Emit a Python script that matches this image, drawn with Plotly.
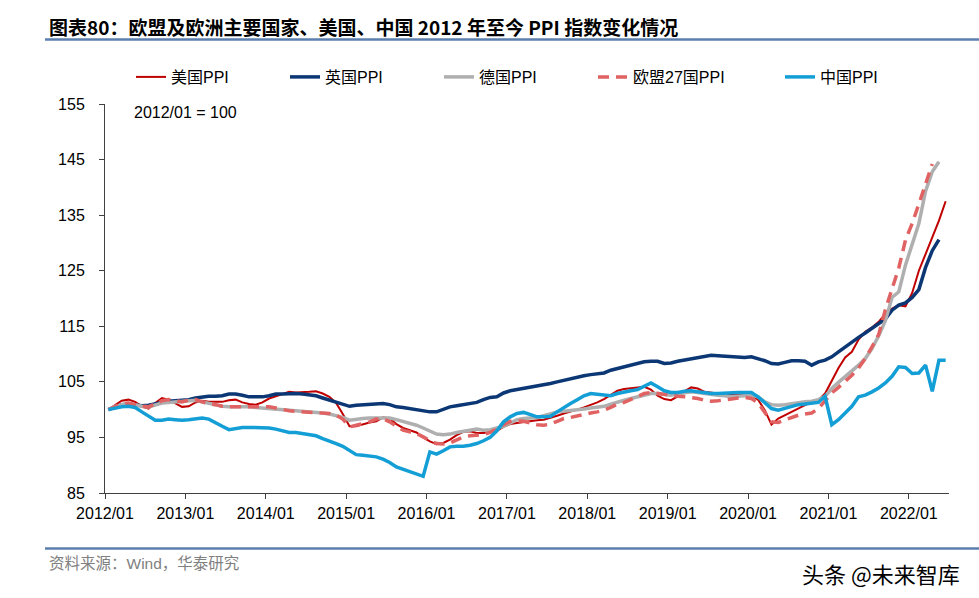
import plotly.graph_objects as go

# month index 0 = 2012/01
us_ppi = [100.0, 100.8, 101.6, 101.8, 101.4, 100.6, 100.2, 101.2, 102.1, 101.8, 101.2, 100.5,
          100.6, 101.3, 101.6, 101.4, 101.4, 101.4, 101.7, 101.8, 101.3, 101.0, 100.9, 101.3,
          102.0, 102.4, 102.8, 103.2, 103.1, 103.1, 103.2, 103.3, 102.9, 102.3, 101.2, 99.2,
          97.0, 97.0, 97.4, 97.7, 97.9, 98.6, 98.4, 97.4, 96.7, 96.3, 95.9, 95.0,
          94.3, 93.8, 94.0, 94.6, 95.4, 96.0, 96.1, 95.8, 95.8, 96.0, 96.2, 96.9,
          97.4, 97.6, 97.8, 98.0, 98.1, 98.2, 98.5, 98.9, 99.3, 99.6, 100.0, 100.4,
          100.8, 101.3, 101.9, 102.6, 103.4, 103.7, 103.8, 103.9, 104.1, 103.6, 102.5, 101.9,
          101.7, 102.4, 103.3, 104.0, 103.8, 103.2, 103.0, 102.9, 102.8, 102.7, 102.7, 102.6,
          102.6, 101.8, 99.9, 97.3, 98.4, 99.0, 99.6, 100.3, 100.8, 101.3, 101.7, 102.9,
          105.3, 107.5, 109.4, 110.4, 112.6, 114.0, 114.8, 115.8, 117.2, 118.2, 118.8, 118.6,
          121.0, 125.0, 128.0, 131.0, 134.0, 137.5]

uk_ppi = [100.0, 100.5, 100.9, 101.0, 100.8, 100.7, 100.8, 101.1, 101.3, 101.5, 101.6, 101.7,
          101.8, 102.1, 102.3, 102.4, 102.4, 102.5, 102.8, 102.8, 102.6, 102.3, 102.3, 102.3,
          102.5, 102.8, 102.8, 102.9, 102.9, 102.8, 102.7, 102.5, 102.1, 101.7, 101.4, 100.9,
          100.6, 100.8, 100.9, 101.0, 101.1, 101.1, 100.9, 100.5, 100.4, 100.2, 100.0, 99.7,
          99.6, 99.6, 100.0, 100.5, 100.7, 100.9, 101.1, 101.3, 101.8, 102.2, 102.3, 103.0,
          103.4, 103.6, 103.8, 104.0, 104.2, 104.4, 104.7, 105.0, 105.3, 105.6, 105.9, 106.1,
          106.3, 106.4, 106.6, 107.1, 107.4, 107.7, 108.0, 108.3, 108.6, 108.7, 108.7, 108.3,
          108.4, 108.7, 108.9, 109.2, 109.4, 109.5, 109.8, 109.7, 109.6, 109.6, 109.5, 109.4,
          109.5, 109.2, 108.8, 108.3, 108.2, 108.5, 108.8, 108.8, 108.7, 108.0, 108.6, 108.9,
          109.5, 110.4, 111.3, 112.2, 113.0, 113.8, 114.6, 115.4, 116.3, 117.9, 118.8, 119.2,
          120.2, 121.6, 125.6, 128.6, 130.6]

de_ppi = [100.0, 100.6, 100.9, 101.1, 100.9, 100.6, 100.5, 100.8, 101.2, 101.3, 101.4, 101.4,
          101.6, 101.7, 101.4, 101.1, 100.8, 100.6, 100.5, 100.5, 100.6, 100.5, 100.4, 100.3,
          100.3, 100.2, 100.0, 99.9, 99.8, 99.7, 99.6, 99.6, 99.4, 99.2, 98.9, 98.6,
          98.1, 98.3, 98.4, 98.5, 98.5, 98.5, 98.5, 98.2, 97.9, 97.5, 97.2, 96.7,
          96.1, 95.6, 95.5, 95.6, 95.9, 96.1, 96.4, 96.5, 96.3, 96.4, 96.7, 97.0,
          97.6, 98.2, 98.4, 98.5, 98.6, 98.9, 99.3, 99.6, 99.7, 99.8, 99.9, 100.1,
          100.3, 100.4, 100.6, 101.0, 101.4, 101.7, 102.0, 102.3, 102.6, 102.9, 102.9, 102.7,
          102.6, 102.8, 103.0, 103.2, 103.1, 102.9, 102.8, 102.6, 102.5, 102.3, 102.4, 102.5,
          102.6, 102.3, 101.4, 100.9, 100.8, 100.9, 101.1, 101.3, 101.4, 101.5, 101.8, 102.4,
          103.8, 104.9, 105.9, 106.8, 108.0, 109.2, 111.0, 113.3, 116.0, 120.2, 121.2, 126.0,
          130.0, 133.5, 139.3, 142.8, 144.6]

eu27_ppi = [100.0, 100.5, 101.0, 101.2, 100.9, 100.6, 100.5, 101.1, 101.6, 101.8, 101.6, 101.4,
            101.7, 101.8, 101.4, 101.0, 100.9, 100.6, 100.5, 100.5, 100.5, 100.5, 100.5, 100.5,
            100.5, 100.3, 100.0, 99.8, 99.7, 99.6, 99.6, 99.5, 99.4, 99.3, 99.0, 98.3,
            96.9, 97.2, 97.5, 97.8, 98.3, 98.4, 97.8, 97.0, 96.3, 96.0, 95.7, 95.1,
            94.4, 93.9, 93.8, 94.0, 94.5, 95.1, 95.3, 95.4, 95.5, 95.9, 96.5, 97.3,
            97.9, 98.0, 97.9, 97.6, 97.3, 97.2, 97.4, 97.9, 98.4, 98.6, 98.9, 99.2,
            99.4, 99.6, 99.9, 100.4, 101.0, 101.3, 101.8, 102.3, 102.9, 103.1, 102.9, 102.8,
            102.6, 102.4, 102.3, 102.2, 102.0, 101.7, 101.5, 101.6, 101.7, 101.9, 102.1, 102.2,
            102.0, 101.2, 99.5, 97.8, 97.7, 98.1, 98.6, 99.0, 99.2, 99.4, 100.2, 101.5,
            103.0, 104.0, 105.0, 106.2, 107.5, 109.2, 111.3, 113.5, 118.0, 122.0, 125.5, 130.5,
            133.5, 137.0, 140.5, 144.2]

cn_ppi = [100.0, 100.3, 100.5, 100.6, 100.4, 99.6, 98.8, 98.1, 98.1, 98.3, 98.2, 98.1,
          98.2, 98.4, 98.5, 98.3, 97.6, 97.0, 96.4, 96.6, 96.8, 96.8, 96.8, 96.8,
          96.7, 96.5, 96.2, 95.9, 95.9, 95.7, 95.5, 95.3, 94.8, 94.4, 93.9, 93.4,
          92.6, 91.9, 91.8, 91.7, 91.5, 91.1, 90.5, 89.7, 89.3, 88.9, 88.5, 88.0,
          92.4, 92.0, 92.6, 93.3, 93.4, 93.4, 93.6, 93.9, 94.4, 95.0, 96.2, 97.8,
          98.7, 99.3, 99.5, 99.1, 98.7, 98.7, 98.8, 99.6, 100.4, 101.1, 101.8, 102.5,
          102.9, 102.8, 102.6, 102.5, 102.9, 103.2, 103.4, 103.6, 104.2, 104.8, 104.1, 103.4,
          103.1, 103.1, 103.3, 103.4, 103.2, 103.0, 102.9, 102.9, 103.0, 103.0, 103.1, 103.1,
          103.1, 102.3, 101.2, 100.2, 99.9, 100.2, 100.6, 100.9, 101.0, 101.1, 101.3, 102.4,
          97.3, 98.2, 99.3, 100.6, 102.3, 102.6, 103.2, 103.9, 104.8, 106.0, 107.7, 107.6,
          106.5, 106.6, 108.0, 103.3, 108.9, 108.9]

tick_labels = ["2012/01", "2013/01", "2014/01", "2015/01", "2016/01", "2017/01",
               "2018/01", "2019/01", "2020/01", "2021/01", "2022/01"]

series = [
    ("美国PPI", us_ppi, "#C00000", 2, "solid", "legend"),
    ("英国PPI", uk_ppi, "#0C3775", 3.5, "solid", "legend"),
    ("德国PPI", de_ppi, "#AFAFAF", 3.5, "solid", "legend"),
    ("欧盟27国PPI", eu27_ppi, "#E06262", 3.5, "11px,7px", "legend"),
    ("中国PPI", cn_ppi, "#139FD6", 3.5, "solid", "legend2"),
]

FONT = "Liberation Sans, Arial, Noto Sans CJK SC, sans-serif"

fig = go.Figure()
for name, vals, color, w, dash, lg in series:
    fig.add_trace(go.Scatter(
        x=list(range(len(vals))), y=vals, mode="lines", name=name, legend=lg,
        line=dict(color=color, width=w, dash=dash)))

# paper-coordinate helpers (plot area: x 105..949 px, y 104..493 px)
L, R, T, B = 105, 30, 104, 105
W, H = 979, 598
PW, PH = W - L - R, H - T - B


def px(x):
    return (x - L) / PW


def py(y):
    return (H - B - y) / PH


legend_common = dict(orientation="h", yanchor="middle", y=py(77), xanchor="left",
                     font=dict(size=16, family=FONT), entrywidth=109,
                     entrywidthmode="pixels", bgcolor="rgba(0,0,0,0)", itemwidth=30)

fig.update_layout(
    width=W, height=H,
    margin=dict(l=L, r=R, t=T, b=B),
    paper_bgcolor="white", plot_bgcolor="white",
    font=dict(family=FONT, size=16, color="#000000"),
    showlegend=True,
    legend=dict(x=px(131), **legend_common),
    legend2=dict(x=px(780), **legend_common),
    xaxis=dict(range=[-0.5, 125.5], tickmode="array",
               tickvals=[12 * k - 0.5 for k in range(len(tick_labels))],
               ticktext=tick_labels, showgrid=False, zeroline=False,
               showline=True, linecolor="#404040", linewidth=1,
               ticks="outside", ticklen=5, tickcolor="#404040",
               tickfont=dict(size=16, family=FONT), ticklabelstandoff=1),
    yaxis=dict(range=[85, 155], dtick=10, tick0=85, showgrid=False, zeroline=False,
               showline=True, linecolor="#404040", linewidth=1,
               ticks="outside", ticklen=5, tickcolor="#404040",
               tickfont=dict(size=16, family=FONT), ticklabelstandoff=11),
    shapes=[
        dict(type="line", xref="paper", yref="paper", x0=px(45), x1=px(979),
             y0=py(39.5), y1=py(39.5), line=dict(color="#5B7FAE", width=2.5)),
        dict(type="line", xref="paper", yref="paper", x0=px(45), x1=px(979),
             y0=py(548.5), y1=py(548.5), line=dict(color="#5B7FAE", width=2.5)),
    ],
    annotations=[
        dict(text="<b>图表80：欧盟及欧洲主要国家、美国、中国 2012 年至今 PPI 指数变化情况</b>",
             xref="paper", yref="paper", x=px(47), y=py(27), xanchor="left", yanchor="middle",
             showarrow=False, font=dict(size=19, family="Noto Sans CJK SC, sans-serif", color="#000000")),
        dict(text="2012/01 = 100", xref="paper", yref="paper", x=px(132), y=py(112),
             xanchor="left", yanchor="middle", showarrow=False,
             font=dict(size=16, family=FONT, color="#000000")),
        dict(text="资料来源：Wind，华泰研究", xref="paper", yref="paper", x=px(47), y=py(563),
             xanchor="left", yanchor="middle", showarrow=False,
             font=dict(size=15.5, family=FONT, color="#808080")),
        dict(text="头条 @未来智库", xref="paper", yref="paper", x=px(962), y=py(573),
             xanchor="right", yanchor="middle", showarrow=False,
             font=dict(size=22, family="Noto Sans CJK SC, sans-serif", color="#000000")),
    ],
)

fig.write_html("out.html", config={"displayModeBar": False},
               post_script="document.body.style.margin='0';")
